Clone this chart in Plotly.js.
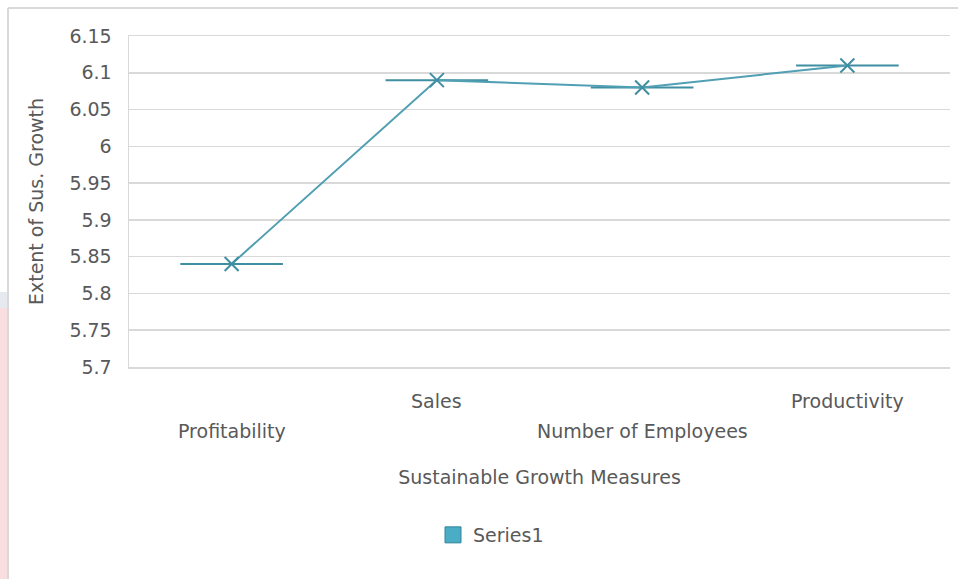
<!DOCTYPE html>
<html>
<head>
<meta charset="utf-8">
<script src="https://cdn.plot.ly/plotly-3.0.1.min.js"></script>
<style>html,body{margin:0;padding:0;background:#fff;}#chart{width:958px;height:579px;}</style>
</head>
<body>
<div id="chart"></div>
<script>
var categories = ["Profitability", "Sales", "Number of Employees", "Productivity"];
var values = [5.84, 6.09, 6.08, 6.11];
var yTickVals = [5.7, 5.75, 5.8, 5.85, 5.9, 5.95, 6, 6.05, 6.1, 6.15];
var yTickText = ["5.7", "5.75", "5.8", "5.85", "5.9", "5.95", "6", "6.05", "6.1", "6.15"];
var seriesName = "Series1";

var FONT = "DejaVu Sans, sans-serif";
var TXT = "#595959";
var L = 129, R = 950, T = 36, B = 367;
function px2x(px){ return (px - L) / (R - L); }
function py2y(py){ return (B - py) / (B - T); }

var idx = categories.map(function(c, i){ return i; });

var main = {
  type: "scatter", mode: "lines+markers",
  x: idx, y: values, name: seriesName, showlegend: false,
  line: {color: "#519fb3", width: 2},
  marker: {symbol: "x-thin", size: 14, line: {color: "#3f8ea2", width: 2}, color: "#3f8ea2"},
  error_x: {type: "constant", value: 0.25, width: 0, thickness: 2, color: "#3f8ea2"},
  hoverinfo: "x+y"
};
var legendItem = {
  type: "scatter", mode: "markers", x: [null], y: [null], name: seriesName,
  marker: {symbol: "square", size: 16, color: "#4bacc6", line: {color: "#31849b", width: 1}}
};

// staggered category labels
var rowY = [py2y(431), py2y(401)];
var annotations = categories.map(function(c, i){
  return {xref: "x", yref: "paper", x: i, y: (i % 2 === 0) ? rowY[0] : rowY[1], text: c,
          showarrow: false, xanchor: "center", yanchor: "middle",
          font: {family: FONT, size: 19, color: TXT}};
});

var layout = {
  width: 958, height: 579,
  margin: {l: L, r: 958 - R, t: T, b: 579 - B},
  paper_bgcolor: "#ffffff", plot_bgcolor: "#ffffff",
  font: {family: FONT, size: 19, color: TXT},
  xaxis: {
    range: [-0.5, 3.5], tickvals: idx, showticklabels: false, ticks: "",
    showgrid: false, zeroline: false, showline: true, mirror: true,
    linecolor: "#d9d9d9", linewidth: 1.5, fixedrange: true,
    title: {text: "Sustainable Growth Measures", standoff: 103, font: {family: FONT, size: 19, color: TXT}}
  },
  yaxis: {
    range: [5.7, 6.15], tickvals: yTickVals, ticktext: yTickText,
    showgrid: true, gridcolor: "#d9d9d9", gridwidth: 1.5,
    zeroline: false, showline: true, linecolor: "#d9d9d9", linewidth: 1.5,
    ticks: "", ticklabelstandoff: 12,
    tickfont: {family: FONT, size: 19, color: TXT},
    title: {text: "Extent of Sus. Growth", standoff: 20, font: {family: FONT, size: 19, color: TXT}}
  },
  showlegend: true,
  legend: {orientation: "h", x: px2x(491), xanchor: "center", y: py2y(535), yanchor: "middle",
           font: {family: FONT, size: 19, color: TXT}, bgcolor: "rgba(0,0,0,0)"},
  annotations: annotations,
  shapes: [
    {type: "rect", xref: "paper", yref: "paper", x0: px2x(0), x1: px2x(7), y0: py2y(308), y1: py2y(579),
     fillcolor: "#f8dede", line: {width: 0}, layer: "below"},
    {type: "rect", xref: "paper", yref: "paper", x0: px2x(0), x1: px2x(7), y0: py2y(292), y1: py2y(308),
     fillcolor: "#e6e9f0", line: {width: 0}, layer: "below"},
    {type: "line", xref: "paper", yref: "paper", x0: px2x(8), x1: px2x(958), y0: py2y(8), y1: py2y(8),
     line: {color: "#d9d9d9", width: 2}},
    {type: "line", xref: "paper", yref: "paper", x0: px2x(8), x1: px2x(8), y0: py2y(8), y1: py2y(579),
     line: {color: "#d9d9d9", width: 2}}
  ]
};

Plotly.newPlot("chart", [main, legendItem], layout, {staticPlot: true, displayModeBar: false});
</script>
</body>
</html>
